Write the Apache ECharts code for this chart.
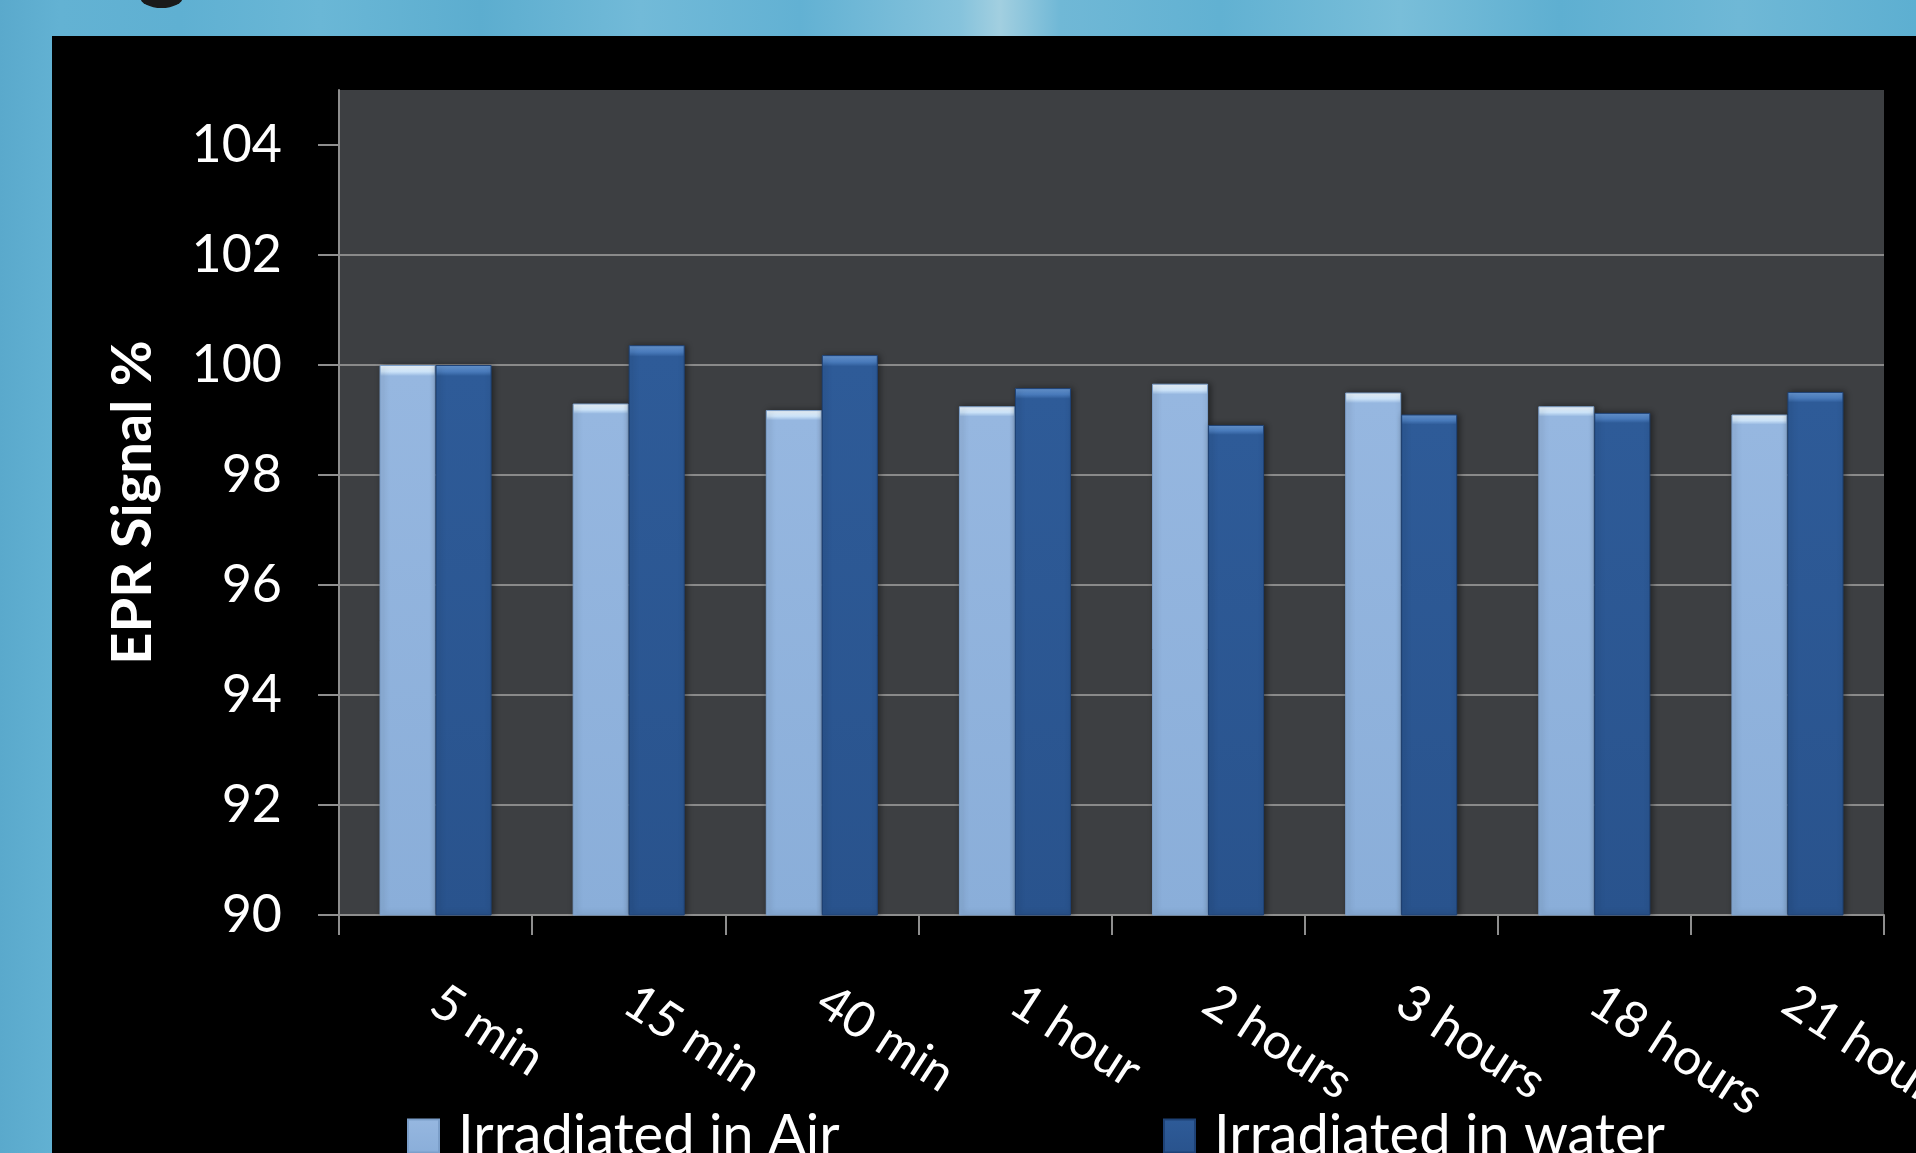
<!DOCTYPE html>
<html>
<head>
<meta charset="utf-8">
<script src="https://cdn.jsdelivr.net/npm/echarts@6/dist/echarts.min.js"></script>
<style>
  html, body { margin: 0; padding: 0; width: 1916px; height: 1153px; overflow: hidden; }
  body {
    background:
      linear-gradient(90deg,
        #5aa9cc 0px, #63b2d3 60px, #5fb0d2 180px, #6ab7d6 320px, #5cadcf 480px,
        #72bad8 640px, #62b1d3 800px, #86c3dc 960px, #a2cfe0 1000px, #70b8d6 1060px,
        #61b1d2 1220px, #79bed9 1400px, #5eafd1 1560px, #6fb8d6 1740px, #5dafd1 1916px);
    position: relative;
  }
  #panel { position: absolute; left: 52px; top: 36px; width: 1864px; height: 1117px; background: #000; }
  #glyph { position: absolute; left: 140px; top: -14px; width: 43px; height: 22px; background: #1a1a1a; border-radius: 50%; }
  #chart { position: absolute; left: 0; top: 0; width: 1916px; height: 1153px; }
</style>
</head>
<body>
<div id="glyph"></div>
<div id="panel"></div>
<div id="chart"></div>
<script>
// Time after irradiation
const categories = ['5 min', '15 min', '40 min', '1 hour', '2 hours', '3 hours', '18 hours', '21 hours'];
// EPR signal, percent of the 5 min value
const airValues = [100.0, 99.3, 99.18, 99.25, 99.66, 99.5, 99.25, 99.1];
const waterValues = [100.0, 100.36, 100.18, 99.58, 98.91, 99.1, 99.13, 99.51];
const yTicks = [90, 92, 94, 96, 98, 100, 102, 104];

const seriesNames = ['Irradiated in Air', 'Irradiated in water'];

const font = 'Lato, "Open Sans", sans-serif';

function bevel(top, band, body, bottom) {
  return new echarts.graphic.LinearGradient(0, 0, 0, 1, [
    { offset: 0, color: top },
    { offset: 0.012, color: band },
    { offset: 0.02, color: body },
    { offset: 1, color: bottom }
  ]);
}

const airFill = bevel('#f2faff', '#cfe6fb', '#96b7e0', '#8aaed9');
const waterFill = bevel('#6a9ad6', '#4a7cbd', '#2e5b98', '#29538d');

const chart = echarts.init(document.getElementById('chart'), null, { renderer: 'canvas' });

const legendText = { color: '#fff', fontSize: 56, fontFamily: font, padding: [0, 0, 0, 14] };

chart.setOption({
  backgroundColor: 'transparent',
  animation: false,
  grid: {
    left: 339, top: 90, right: 32, bottom: 238,
    outerBoundsMode: 'none',
    containLabel: false,
    show: true, backgroundColor: '#3d3f42', borderWidth: 0
  },
  legend: [
    {
      data: [seriesNames[0]], left: 407, top: 1108, padding: 0,
      icon: 'rect', itemWidth: 31, itemHeight: 33,
      textStyle: legendText
    },
    {
      data: [seriesNames[1]], left: 1163, top: 1108, padding: 0,
      icon: 'rect', itemWidth: 31, itemHeight: 33,
      textStyle: legendText
    }
  ],
  xAxis: {
    type: 'category',
    data: categories,
    boundaryGap: true,
    axisLine: { show: true, lineStyle: { color: '#8e8e8e', width: 2 } },
    axisTick: { show: true, length: 20, lineStyle: { color: '#8e8e8e', width: 2 } },
    axisLabel: {
      interval: 0, rotate: -33, margin: 82, hideOverlap: false,
      color: '#fff', fontSize: 50, fontFamily: font
    },
    splitLine: { show: false }
  },
  yAxis: {
    type: 'value',
    min: 90, max: 105, interval: 2,
    name: 'EPR Signal %',
    nameLocation: 'middle',
    nameGap: 178,
    nameTextStyle: { color: '#fff', fontSize: 56, fontWeight: 'bold', fontFamily: font },
    axisLine: { show: true, lineStyle: { color: '#8e8e8e', width: 2 } },
    axisTick: { show: true, length: 21, customValues: yTicks, lineStyle: { color: '#8e8e8e', width: 2 } },
    axisLabel: { customValues: yTicks, margin: 57, color: '#fff', fontSize: 52, fontFamily: font },
    splitLine: { show: true, showMaxLine: false, lineStyle: { color: '#8a8a8a', width: 2 } }
  },
  series: [
    {
      name: seriesNames[0], type: 'bar', data: airValues,
      barGap: '0%', barCategoryGap: '42%',
      itemStyle: {
        color: airFill, borderColor: '#7c9fca', borderWidth: 1,
        shadowBlur: 6, shadowColor: 'rgba(0,0,0,0.45)', shadowOffsetX: 2
      }
    },
    {
      name: seriesNames[1], type: 'bar', data: waterValues,
      barGap: '0%', barCategoryGap: '42%',
      itemStyle: {
        color: waterFill, borderColor: '#1e4276', borderWidth: 1,
        shadowBlur: 6, shadowColor: 'rgba(0,0,0,0.45)', shadowOffsetX: 2
      }
    }
  ]
});
</script>
</body>
</html>
